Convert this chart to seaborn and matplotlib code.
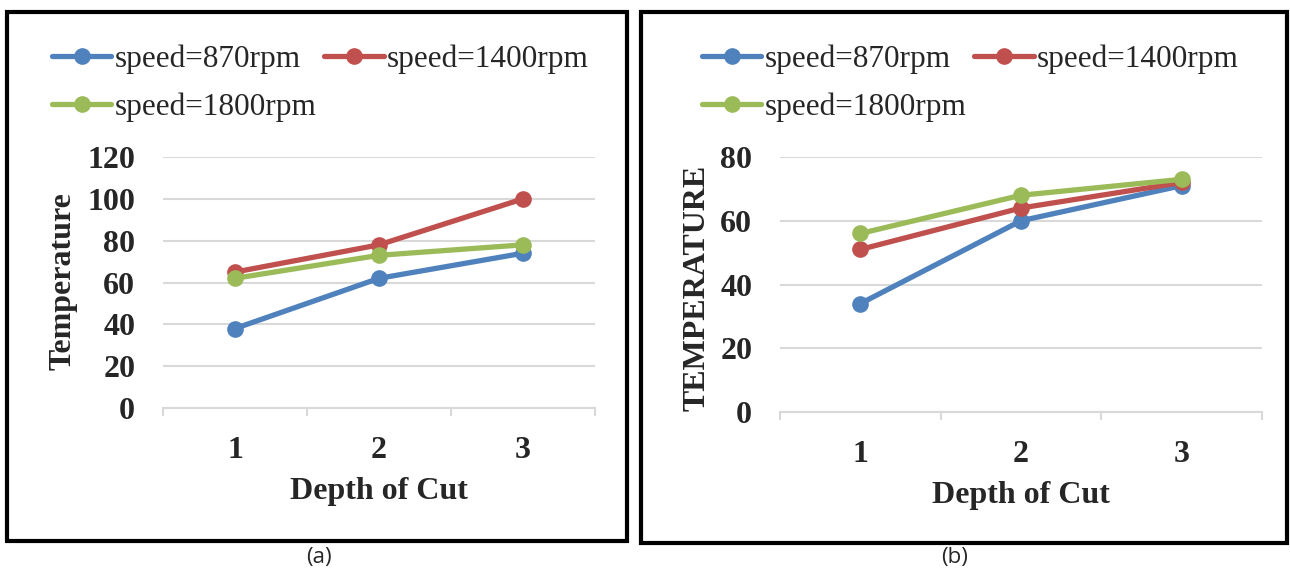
import pandas as pd
import matplotlib.pyplot as plt
import seaborn as sns
from matplotlib.patches import Rectangle
from matplotlib.ticker import FixedLocator

# valores
depth = [1, 2, 3]
speeds = ["speed=870rpm", "speed=1400rpm", "speed=1800rpm"]
temp_a = {
    "speed=870rpm": [38, 62, 74],
    "speed=1400rpm": [65, 78, 100],
    "speed=1800rpm": [62, 73, 78],
}
temp_b = {
    "speed=870rpm": [34, 60, 71],
    "speed=1400rpm": [51, 64, 72],
    "speed=1800rpm": [56, 68, 73],
}
yticks_a = [0, 20, 40, 60, 80, 100, 120]
yticks_b = [0, 20, 40, 60, 80]
colores = ["#4F81BD", "#C0504D", "#9BBB59"]

sns.set_theme(style="white")
plt.rcParams["font.family"] = ["Liberation Serif", "DejaVu Serif"]

W, H = 1290, 575
fig = plt.figure(figsize=(W / 100, H / 100), dpi=100)


def px_axes(x0, x1, ytop, ybot):
    return fig.add_axes([x0 / W, (H - ybot) / H, (x1 - x0) / W, (ybot - ytop) / H])


def to_long(datos):
    filas = []
    for s in speeds:
        for d, t in zip(depth, datos[s]):
            filas.append({"depth": d, "temp": t, "speed": s})
    return pd.DataFrame(filas)


def dibujar(ax, datos, yticks, ylabel, ylabel_x, ylabel_y, leg_xy):
    df = to_long(datos)
    sns.lineplot(data=df, x="depth", y="temp", hue="speed", hue_order=speeds,
                 palette=colores, marker="o", markersize=12, markeredgewidth=0,
                 linewidth=3.8, ax=ax)
    for ln in ax.lines:
        ln.set_clip_on(False)
    ax.set_xlim(0.5, 3.5)
    ax.set_ylim(0, yticks[-1])
    ax.set_yticks(yticks)
    ax.set_xticks(depth)
    ax.xaxis.set_minor_locator(FixedLocator([0.5, 1.5, 2.5, 3.5]))
    ax.grid(axis="y", color="#D9D9D9", linewidth=1.5)
    ax.grid(axis="x", visible=False)
    for lado in ["left", "right", "top"]:
        ax.spines[lado].set_visible(False)
    ax.spines["bottom"].set_color("#D9D9D9")
    ax.spines["bottom"].set_linewidth(1.5)
    ax.tick_params(axis="y", length=0, pad=20, labelsize=23)
    ax.tick_params(axis="x", which="major", length=0, pad=20, labelsize=23)
    ax.tick_params(axis="x", which="minor", length=6, width=1.5, color="#D9D9D9",
                   direction="out", bottom=True)
    for t in ax.get_xticklabels() + ax.get_yticklabels():
        t.set_fontweight("bold")
    ax.set_xlabel("Depth of Cut", fontsize=23, fontweight="bold", labelpad=9)
    ax.set_ylabel(ylabel, fontsize=23, fontweight="bold")
    ax.yaxis.set_label_coords(ylabel_x, ylabel_y)
    handles, labels = ax.get_legend_handles_labels()
    # orden por filas: 870, 1400 arriba y 1800 abajo
    orden = [0, 2, 1]
    ax.legend([handles[i] for i in orden], [labels[i] for i in orden],
              loc="upper left", bbox_to_anchor=leg_xy,
              bbox_transform=fig.transFigure, ncol=2, frameon=False,
              fontsize=22.5, handlelength=1.9, handletextpad=0.1,
              columnspacing=0.25, labelspacing=0.6, borderpad=0,
              borderaxespad=0)


# panel (a)
ax1 = px_axes(163, 595, 157, 408)
dibujar(ax1, temp_a, yticks_a, "Temperature", -0.197, 0.506,
        (52 / W, (H - 44) / H))

# panel (b)
ax2 = px_axes(780, 1262, 157, 412)
dibujar(ax2, temp_b, yticks_b, "TEMPERATURE", -0.143, 0.486,
        (702 / W, (H - 44) / H))

# marcos de cada panel
for x0, x1, y0, y1 in [(7, 627, 12, 541), (641, 1287, 12, 543)]:
    fig.add_artist(Rectangle((x0 / W, (H - y1) / H), (x1 - x0) / W, (y1 - y0) / H,
                             transform=fig.transFigure, fill=False,
                             edgecolor="black", linewidth=3))

fig.text(319 / W, (H - 558) / H, "(a)", ha="center", va="center",
         fontsize=16, family=["Open Sans", "DejaVu Sans"])
fig.text(955 / W, (H - 558) / H, "(b)", ha="center", va="center",
         fontsize=16, family=["Open Sans", "DejaVu Sans"])

fig.savefig("out.png", dpi=100, facecolor="white")
